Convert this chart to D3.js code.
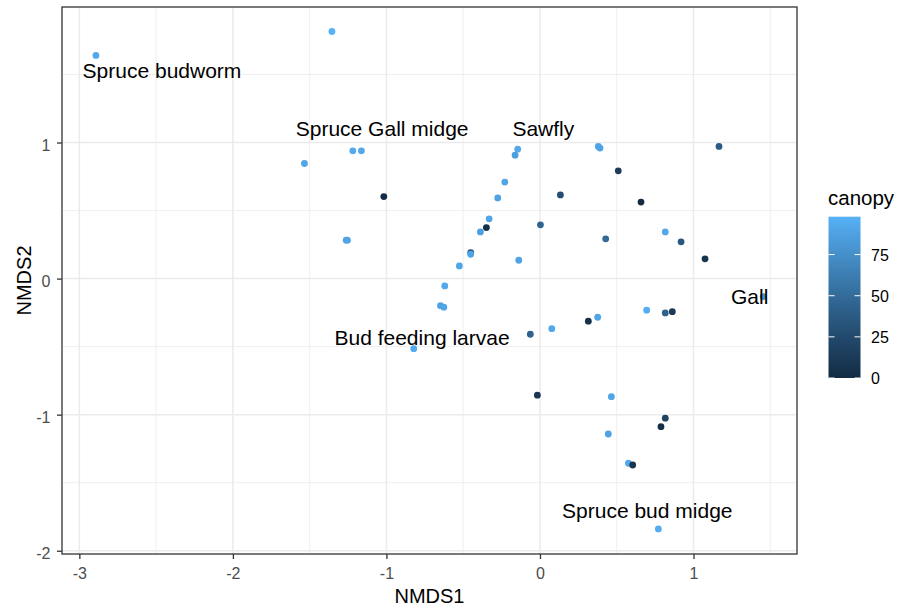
<!DOCTYPE html>
<html lang="en">
<meta charset="utf-8">
<style>
body {
  margin: 0;
  background: #fff;
  font-family: 'Liberation Sans', Arial, sans-serif;
}
.grid-major { stroke: #ebebeb; stroke-width: 1.5; }
.grid-minor { stroke: #ebebeb; stroke-width: 0.8; }
.axis text { font-size: 16px; fill: #4d4d4d; font-family: 'Liberation Sans', Arial, sans-serif; }
.axis line { stroke: #333; stroke-width: 1.3; }
.axis .domain { display: none; }
.species { font-size: 21px; fill: #000; }
</style>
<body>
<div id="chart"></div>

<script src="https://d3js.org/d3.v7.min.js"></script>
<script>

// site scores (NMDS1, NMDS2) and canopy cover
var nmds1 = [-2.892, -1.355, -1.534, -1.219, -1.163, -1.017, -1.262, -1.254, -0.145, -0.162,
             -0.229, -0.275, 0.133, -0.331, -0.349, -0.388, 0.003, -0.451, -0.451, -0.138,
             -0.525, -0.620, -0.648, -0.626, -0.822, -0.063, 0.077, 0.376, 0.315, 0.380,
             0.391, 1.166, 0.510, 0.658, 0.428, 0.816, 0.919, 1.075, 1.454, 0.695,
             0.816, 0.862, -0.017, 0.465, 0.816, 0.788, 0.445, 0.576, 0.604, 0.771];
var nmds2 = [1.640, 1.816, 0.846, 0.939, 0.939, 0.603, 0.282, 0.282, 0.951, 0.907,
             0.709, 0.593, 0.615, 0.439, 0.375, 0.343, 0.395, 0.191, 0.179, 0.135,
             0.093, -0.054, -0.199, -0.210, -0.515, -0.409, -0.368, -0.284, -0.313, 0.971,
             0.959, 0.971, 0.792, 0.562, 0.292, 0.343, 0.270, 0.145, -0.132, -0.232,
             -0.252, -0.243, -0.857, -0.868, -1.026, -1.088, -1.142, -1.357, -1.370, -1.840];
var canopy = [92, 98, 90, 94, 92, 2, 88, 90, 92, 85,
              90, 88, 28, 90, 4, 86, 45, 30, 90, 88,
              90, 92, 88, 90, 94, 42, 92, 90, 5, 90,
              88, 38, 14, 0, 48, 92, 35, 8, 80, 95,
              42, 12, 10, 90, 20, 3, 88, 92, 8, 95];

// species labels
var speciesNames = ["Spruce budworm", "Spruce Gall midge", "Sawfly", "Bud feeding larvae", "Gall", "Spruce bud midge"];
var speciesX = [-2.462, -1.028, 0.022, -0.768, 1.366, 0.699];
var speciesY = [1.531, 1.104, 1.101, -0.4375, -0.131, -1.704];

var xTicks = [-3, -2, -1, 0, 1];
var xMinor = [-2.5, -1.5, -0.5, 0.5, 1.5];
var yTicks = [-2, -1, 0, 1];
var yMinor = [-1.5, -0.5, 0.5, 1.5];
var legendTicks = [0, 25, 50, 75];

var width = 898,
    height = 611;
var panel = {left: 62, top: 7, right: 797, bottom: 554};

var x = d3.scaleLinear()
    .domain([-3.113, 1.674])
    .range([panel.left, panel.right]);
var y = d3.scaleLinear()
    .domain([-2.024, 1.996])
    .range([panel.bottom, panel.top]);

var color = d3.scaleLinear()
    .domain(d3.extent(canopy))
    .range(["#132B43", "#56B1F7"])
    .interpolate(d3.interpolateLab);

var svg = d3.select("#chart").append("svg")
    .attr("width", width)
    .attr("height", height);

// grid
svg.append("g").selectAll("line")
    .data(xMinor).enter().append("line")
    .attr("class", "grid-minor")
    .attr("x1", function(d) { return x(d); }).attr("x2", function(d) { return x(d); })
    .attr("y1", panel.top).attr("y2", panel.bottom);
svg.append("g").selectAll("line")
    .data(yMinor).enter().append("line")
    .attr("class", "grid-minor")
    .attr("y1", function(d) { return y(d); }).attr("y2", function(d) { return y(d); })
    .attr("x1", panel.left).attr("x2", panel.right);
svg.append("g").selectAll("line")
    .data(xTicks).enter().append("line")
    .attr("class", "grid-major")
    .attr("x1", function(d) { return x(d); }).attr("x2", function(d) { return x(d); })
    .attr("y1", panel.top).attr("y2", panel.bottom);
svg.append("g").selectAll("line")
    .data(yTicks).enter().append("line")
    .attr("class", "grid-major")
    .attr("y1", function(d) { return y(d); }).attr("y2", function(d) { return y(d); })
    .attr("x1", panel.left).attr("x2", panel.right);

// points
var sites = nmds1.map(function(d, i) { return {x: d, y: nmds2[i], canopy: canopy[i]}; });
svg.append("g").selectAll("circle")
    .data(sites).enter().append("circle")
    .attr("cx", function(d) { return x(d.x); })
    .attr("cy", function(d) { return y(d.y); })
    .attr("r", 3.4)
    .style("fill", function(d) { return color(d.canopy); });

// species text
svg.append("g").selectAll("text")
    .data(speciesNames).enter().append("text")
    .attr("class", "species")
    .attr("x", function(d, i) { return x(speciesX[i]); })
    .attr("y", function(d, i) { return y(speciesY[i]); })
    .attr("dy", "0.35em")
    .attr("text-anchor", "middle")
    .text(function(d) { return d; });

// panel border
svg.append("rect")
    .attr("x", panel.left).attr("y", panel.top)
    .attr("width", panel.right - panel.left)
    .attr("height", panel.bottom - panel.top)
    .attr("fill", "none")
    .attr("stroke", "#333")
    .attr("stroke-width", 1.3);

// axes
svg.append("g")
    .attr("class", "axis")
    .attr("transform", "translate(0," + panel.bottom + ")")
    .call(d3.axisBottom(x).tickValues(xTicks).tickSize(5).tickSizeOuter(0).tickPadding(9).tickFormat(d3.format("d")));
svg.append("g")
    .attr("class", "axis")
    .attr("transform", "translate(" + panel.left + ",0)")
    .call(d3.axisLeft(y).tickValues(yTicks).tickSize(5).tickSizeOuter(0).tickPadding(6.5).tickFormat(d3.format("d")))
  .selectAll("text")
    .attr("dy", "0.47em");

// minus signs: ggplot uses a plain hyphen
svg.selectAll(".axis text").text(function() { return this.textContent.replace("\u2212", "-"); });

svg.append("text")
    .attr("x", (panel.left + panel.right) / 2)
    .attr("y", 603)
    .attr("text-anchor", "middle")
    .style("font-size", "20px")
    .text("NMDS1");
svg.append("text")
    .attr("transform", "translate(31," + (panel.top + panel.bottom) / 2 + ") rotate(-90)")
    .attr("text-anchor", "middle")
    .style("font-size", "20px")
    .text("NMDS2");

// colour bar legend
var bar = {left: 828.5, right: 860.5, top: 216.7, bottom: 378};
var legendY = d3.scaleLinear()
    .domain(d3.extent(canopy))
    .range([bar.bottom, bar.top]);

var grad = svg.append("defs").append("linearGradient")
    .attr("id", "canopyGrad")
    .attr("x1", 0).attr("y1", 1).attr("x2", 0).attr("y2", 0);
grad.selectAll("stop")
    .data(d3.range(0, 1.0001, 0.05)).enter().append("stop")
    .attr("offset", function(d) { return d; })
    .attr("stop-color", function(d) { return color(legendY.invert(bar.bottom + d * (bar.top - bar.bottom))); });

svg.append("text")
    .attr("x", 828)
    .attr("y", 205)
    .style("font-size", "20.5px")
    .text("canopy");

svg.append("rect")
    .attr("x", bar.left).attr("y", bar.top)
    .attr("width", bar.right - bar.left)
    .attr("height", bar.bottom - bar.top)
    .attr("fill", "url(#canopyGrad)");

var lt = svg.append("g").selectAll("g")
    .data(legendTicks).enter().append("g");
lt.append("line")
    .attr("x1", bar.left).attr("x2", bar.left + 6)
    .attr("y1", function(d) { return legendY(d); }).attr("y2", function(d) { return legendY(d); })
    .attr("stroke", "#fff").attr("stroke-width", 1);
lt.append("line")
    .attr("x1", bar.right - 6).attr("x2", bar.right)
    .attr("y1", function(d) { return legendY(d); }).attr("y2", function(d) { return legendY(d); })
    .attr("stroke", "#fff").attr("stroke-width", 1);
lt.append("text")
    .attr("x", 871)
    .attr("y", function(d) { return legendY(d); })
    .attr("dy", "0.4em")
    .style("font-size", "16px")
    .text(function(d) { return d; });

</script>
</body>
</html>
